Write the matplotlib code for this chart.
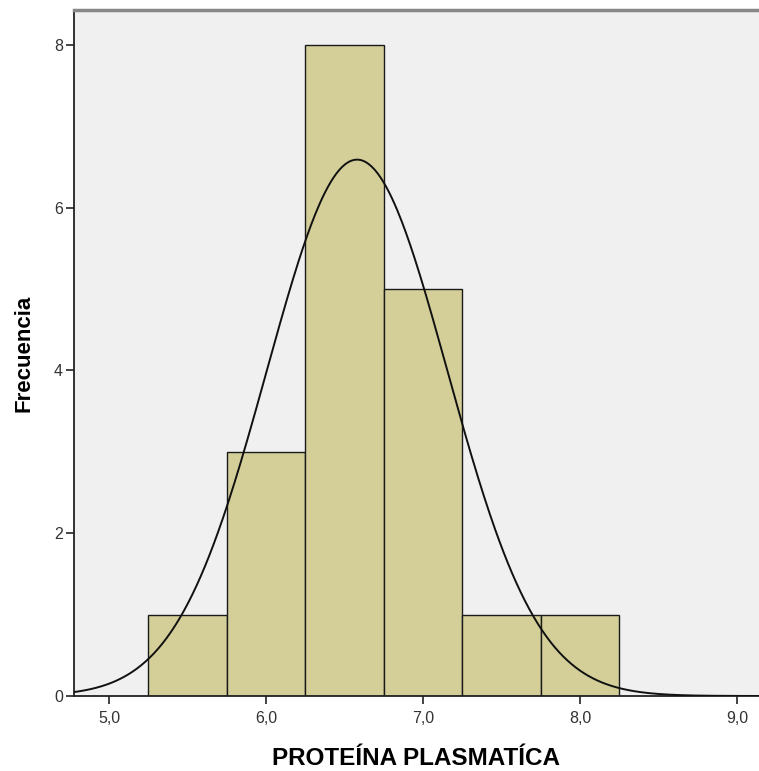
import numpy as np
import matplotlib
matplotlib.use("Agg")
import matplotlib.pyplot as plt

plt.rcParams['font.family'] = ['Liberation Sans', 'DejaVu Sans']

# histogram data
bin_edges = [5.25, 5.75, 6.25, 6.75, 7.25, 7.75, 8.25]
counts = [1, 3, 8, 5, 1, 1]
n_total = 19
mean_val = 6.58
sd_val = 0.575

xticks = [5.0, 6.0, 7.0, 8.0, 9.0]
xtick_labels = ["5,0", "6,0", "7,0", "8,0", "9,0"]
yticks = [0, 2, 4, 6, 8]

fig = plt.figure(figsize=(7.59, 7.71), dpi=100)
ax = fig.add_axes([74/759, 75/771, 1 - 74/759, (696 - 10)/771])
ax.set_facecolor("#F0F0F0")

widths = np.diff(bin_edges)
ax.bar(bin_edges[:-1], counts, width=widths, align="edge",
       color="#D4CF99", edgecolor="#1a1a1a", linewidth=1.0, zorder=2)

# normal curve scaled to counts
xs = np.linspace(4.7, 9.2, 500)
bw = widths[0]
ys = n_total * bw / (sd_val * np.sqrt(2 * np.pi)) * np.exp(-0.5 * ((xs - mean_val) / sd_val) ** 2)
ax.plot(xs, ys, color="#111111", linewidth=1.4, zorder=3)

ax.set_xlim(4.777, 9.14)
ax.set_ylim(0, 8.43)
ax.set_xticks(xticks)
ax.set_xticklabels(xtick_labels)
ax.set_yticks(yticks)

ax.tick_params(axis="both", direction="out", length=6, width=1.2,
               colors="#222222", labelsize=11.5, labelcolor="#333333")
ax.tick_params(axis="x", pad=5)
ax.tick_params(axis="y", pad=2)

for s in ["left", "bottom"]:
    ax.spines[s].set_color("#222222")
    ax.spines[s].set_linewidth(1.3)
ax.spines["top"].set_color("#888888")
ax.spines["top"].set_linewidth(2.5)
ax.spines["right"].set_visible(False)

ax.set_xlabel("PROTEÍNA PLASMATÍCA", fontsize=17.5, fontweight="bold", labelpad=15)
ax.set_ylabel("Frecuencia", fontsize=16, fontweight="bold", labelpad=14)

fig.savefig("out.png", dpi=100)
